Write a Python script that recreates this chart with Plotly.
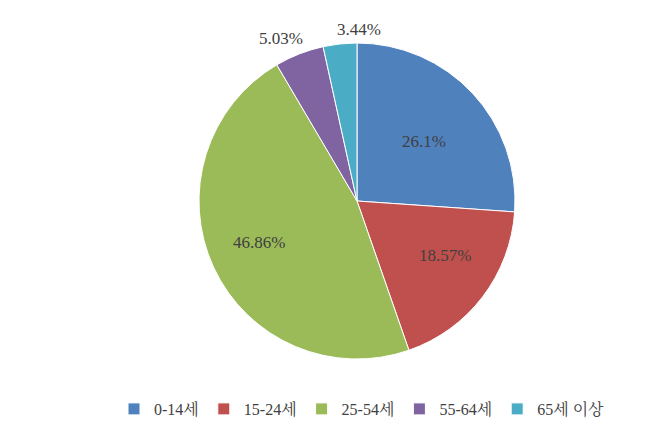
import math
import plotly.graph_objects as go

categories = ["0-14세", "15-24세", "25-54세", "55-64세", "65세 이상"]
values = [26.1, 18.57, 46.86, 5.03, 3.44]
value_labels = ["26.1%", "18.57%", "46.86%", "5.03%", "3.44%"]
colors = ["#4F81BD", "#C0504D", "#9BBB59", "#8064A2", "#4BACC6"]

W, H = 657, 431
L, R, T, B = 41, 0, 35, 80
FONT = "Liberation Serif, Noto Serif CJK KR, Noto Sans CJK KR"
TXT = "#404040"

fig = go.Figure(go.Pie(
    labels=categories,
    values=values,
    textinfo="none",
    sort=False,
    direction="clockwise",
    rotation=0,
    marker=dict(colors=colors, line=dict(color="white", width=1)),
    hoverinfo="label+percent",
))

# data labels placed along each slice's mid-angle
total = sum(values)
pw, ph = W - L - R, H - T - B
cx, cy = pw / 2, ph / 2
rad = min(pw, ph) / 2
label_radius = [0.58, 0.66, 0.68, 1.11, 1.11]   # fraction of pie radius
shifts = [(0, -3), (5, 9), (0, 4), (-12, -1), (21, -3)]
cum = 0.0
for k, v in enumerate(values):
    mid = (cum + v / 2) / total * 2 * math.pi
    cum += v
    rr = rad * label_radius[k]
    px = cx + rr * math.sin(mid)
    py = cy + rr * math.cos(mid)  # from bottom of plot area, upward
    dx, dy = shifts[k]
    fig.add_annotation(
        x=px / pw, y=py / ph, xref="paper", yref="paper",
        text=value_labels[k], showarrow=False,
        xanchor="center", yanchor="middle",
        xshift=dx, yshift=dy,
        font=dict(family=FONT, size=17, color=TXT),
    )

fig.update_layout(
    width=W, height=H,
    margin=dict(l=L, r=R, t=T, b=B, autoexpand=False),
    paper_bgcolor="white",
    plot_bgcolor="white",
    showlegend=True,
    legend=dict(
        orientation="h", xref="paper", x=(106 - L) / pw, xanchor="left",
        yref="paper", y=-(401 - (H - B)) / ph, yanchor="middle",
        font=dict(family=FONT, size=16, color=TXT),
        itemwidth=30,
    ),
)

fig.write_html("out.html")
